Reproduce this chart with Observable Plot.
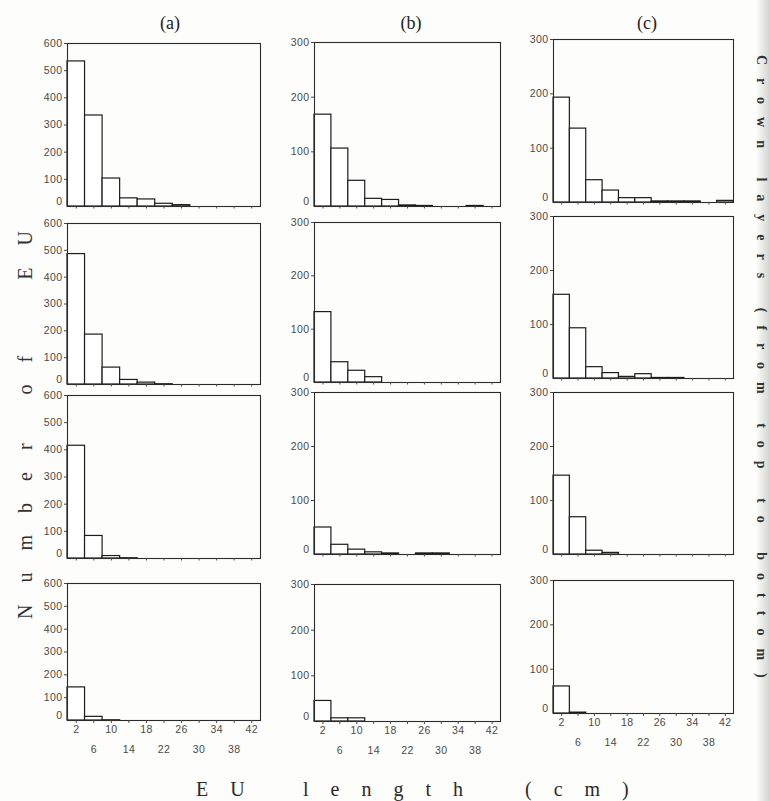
<!DOCTYPE html>
<html>
<head>
<meta charset="utf-8">
<script src="https://cdn.jsdelivr.net/npm/d3@7"></script>
<script src="https://cdn.jsdelivr.net/npm/@observablehq/plot@0.6"></script>
<style>
  html, body { margin: 0; padding: 0; background: #fff; }
  #page { position: relative; width: 770px; height: 801px; overflow: hidden; background: #fdfdfc; }
  .panel { position: absolute; }
  #overlay { position: absolute; left: 0; top: 0; pointer-events: none; }
  #edge { position: absolute; left: 756px; top: 0; width: 14px; height: 801px;
          background: linear-gradient(to right, rgba(200,200,195,0), rgba(175,178,170,0.55)); }
</style>
</head>
<body>
<div id="page"><div id="edge"></div></div>
<script>
// ---- data ----
const binCenters = [2, 6, 10, 14, 18, 22, 26, 30, 34, 38, 42];   // EU length classes (cm), width 4
const columnTitles = ["(a)", "(b)", "(c)"];
const yTicksA = [0, 100, 200, 300, 400, 500, 600];
const yTicksBC = [0, 100, 200, 300];
const xTicksUpper = [2, 10, 18, 26, 34, 42];
const xTicksLower = [6, 14, 22, 30, 38];

// column (a): crown layers top -> bottom
const a1 = [534, 335, 103, 30, 26, 10, 5, 0, 0, 0, 0];
const a2 = [486, 186, 63, 17, 7, 1, 0, 0, 0, 0, 0];
const a3 = [415, 83, 9, 1, 0, 0, 0, 0, 0, 0, 0];
const a4 = [145, 16, 1, 0, 0, 0, 0, 0, 0, 0, 0];
// column (b)
const b1 = [168, 106, 47, 14, 12, 2, 1, 0, 0, 1, 0];
const b2 = [132, 38, 22, 10, 0, 0, 0, 0, 0, 0, 0];
const b3 = [50, 18, 9, 4, 2, 0, 2, 2, 0, 0, 0];
const b4 = [45, 7, 7, 0, 0, 0, 0, 0, 0, 0, 0];
// column (c)
const c1 = [193, 136, 41, 22, 8, 8, 2, 2, 2, 0, 3];
const c2 = [155, 93, 21, 10, 3, 8, 1, 1, 0, 0, 0];
const c3 = [146, 69, 7, 3, 0, 0, 0, 0, 0, 0, 0];
const c4 = [61, 2, 0, 0, 0, 0, 0, 0, 0, 0, 0];

// ---- layout (frame boxes in page pixels) ----
const colX = [[67, 260], [314, 500], [553, 733]];
const rowY = [
  [[43, 206], [223, 384], [395, 558], [583, 720]],
  [[42, 206], [222, 382], [392, 554], [584, 721]],
  [[39, 202], [216, 378], [392, 554], [580, 713]]
];
const columns = [
  {series: [a1, a2, a3, a4], ticks: yTicksA},
  {series: [b1, b2, b3, b4], ticks: yTicksBC},
  {series: [c1, c2, c3, c4], ticks: yTicksBC}
];

const page = document.getElementById("page");

function drawPanel(values, yTicks, xr, yr, isBottom) {
  const ml = 36, mr = 3, mt = 7, mb = isBottom ? 46 : 6;
  const width = xr[1] - xr[0] + ml + mr;
  const height = yr[1] - yr[0] + mt + mb;
  const data = binCenters.map((c, i) => ({lo: c - 2, hi: c + 2, n: values[i]})).filter(d => d.n > 0);
  const marks = [
    Plot.rect(data, {x1: "lo", x2: "hi", y1: 0, y2: "n", fill: "white", stroke: "#1c1c1c", strokeWidth: 1.2}),
    Plot.frame({stroke: "#2b2b2b", strokeWidth: 1.1}),
    Plot.axisY({ticks: yTicks.filter(t => t !== 0), tickSize: 3, tickPadding: 2, label: null, tickFormat: d => String(d)}),
    Plot.axisY({ticks: [0], tickSize: 0, tickPadding: 5, dy: -5, label: null, tickFormat: d => String(d)})
  ];
  if (isBottom) {
    marks.push(Plot.axisX({ticks: xTicksUpper, tickSize: 3, tickPadding: 2, label: null, tickFormat: d => String(d)}));
    marks.push(Plot.axisX({ticks: xTicksLower, tickSize: 3, tickPadding: 22, label: null, tickFormat: d => String(d)}));
  } else {
    marks.push(Plot.axisX({ticks: binCenters, tickSize: 2.5, label: null, tickFormat: () => ""}));
  }
  const svg = Plot.plot({
    width, height,
    marginLeft: ml, marginRight: mr, marginTop: mt, marginBottom: mb,
    x: {domain: [0, 44], label: null, axis: null},
    y: {domain: [0, yTicks[yTicks.length - 1]], label: null, axis: null},
    style: {fontFamily: '"Liberation Sans", Arial, sans-serif', fontSize: "10.5px", color: "#4a4a4a",
            background: "transparent", overflow: "visible", letterSpacing: "0.4px"},
    marks
  });
  svg.classList.add("panel");
  svg.style.left = (xr[0] - ml) + "px";
  svg.style.top = (yr[0] - mt) + "px";
  page.appendChild(svg);
}

columns.forEach((col, ci) => {
  col.series.forEach((vals, ri) => {
    drawPanel(vals, col.ticks, colX[ci], rowY[ci][ri], ri === 3);
  });
});

// ---- titles / labels ----
const NS = "http://www.w3.org/2000/svg";
const ov = document.createElementNS(NS, "svg");
ov.setAttribute("id", "overlay");
ov.setAttribute("width", 770);
ov.setAttribute("height", 801);
page.appendChild(ov);

function txt(str, attrs, style) {
  const t = document.createElementNS(NS, "text");
  for (const k in attrs) t.setAttribute(k, attrs[k]);
  Object.assign(t.style, style || {});
  t.textContent = str;
  ov.appendChild(t);
  return t;
}
const serif = '"Liberation Serif", "DejaVu Serif", serif';
const titleX = [170, 411, 647];
columnTitles.forEach((s, i) => txt(s, {x: titleX[i], y: 29, "text-anchor": "middle"},
  {fontFamily: serif, fontSize: "18px", fill: "#222"}));

// left y label
txt("Number of  EU", {x: 0, y: 0, transform: "translate(32,414) rotate(-90)", "text-anchor": "middle"},
  {fontFamily: serif, fontSize: "20px", fill: "#333", letterSpacing: "22px", whiteSpace: "pre"});

// right label
txt("Crown layers (from top to bottom)", {x: 0, y: 0, transform: "translate(757,55) rotate(90)", "text-anchor": "start"},
  {fontFamily: serif, fontSize: "14px", fill: "#333", letterSpacing: "13px", whiteSpace: "pre", fontWeight: "bold"});

// bottom x label
const bt = txt("", {y: 796}, {fontFamily: serif, fontSize: "20px", fill: "#2a2a2a", letterSpacing: "22px"});
[["EU", 196], ["length", 303], ["(cm)", 525]].forEach(([s, x]) => {
  const ts = document.createElementNS(NS, "tspan");
  ts.setAttribute("x", x);
  ts.textContent = s;
  bt.appendChild(ts);
});
</script>
</body>
</html>
